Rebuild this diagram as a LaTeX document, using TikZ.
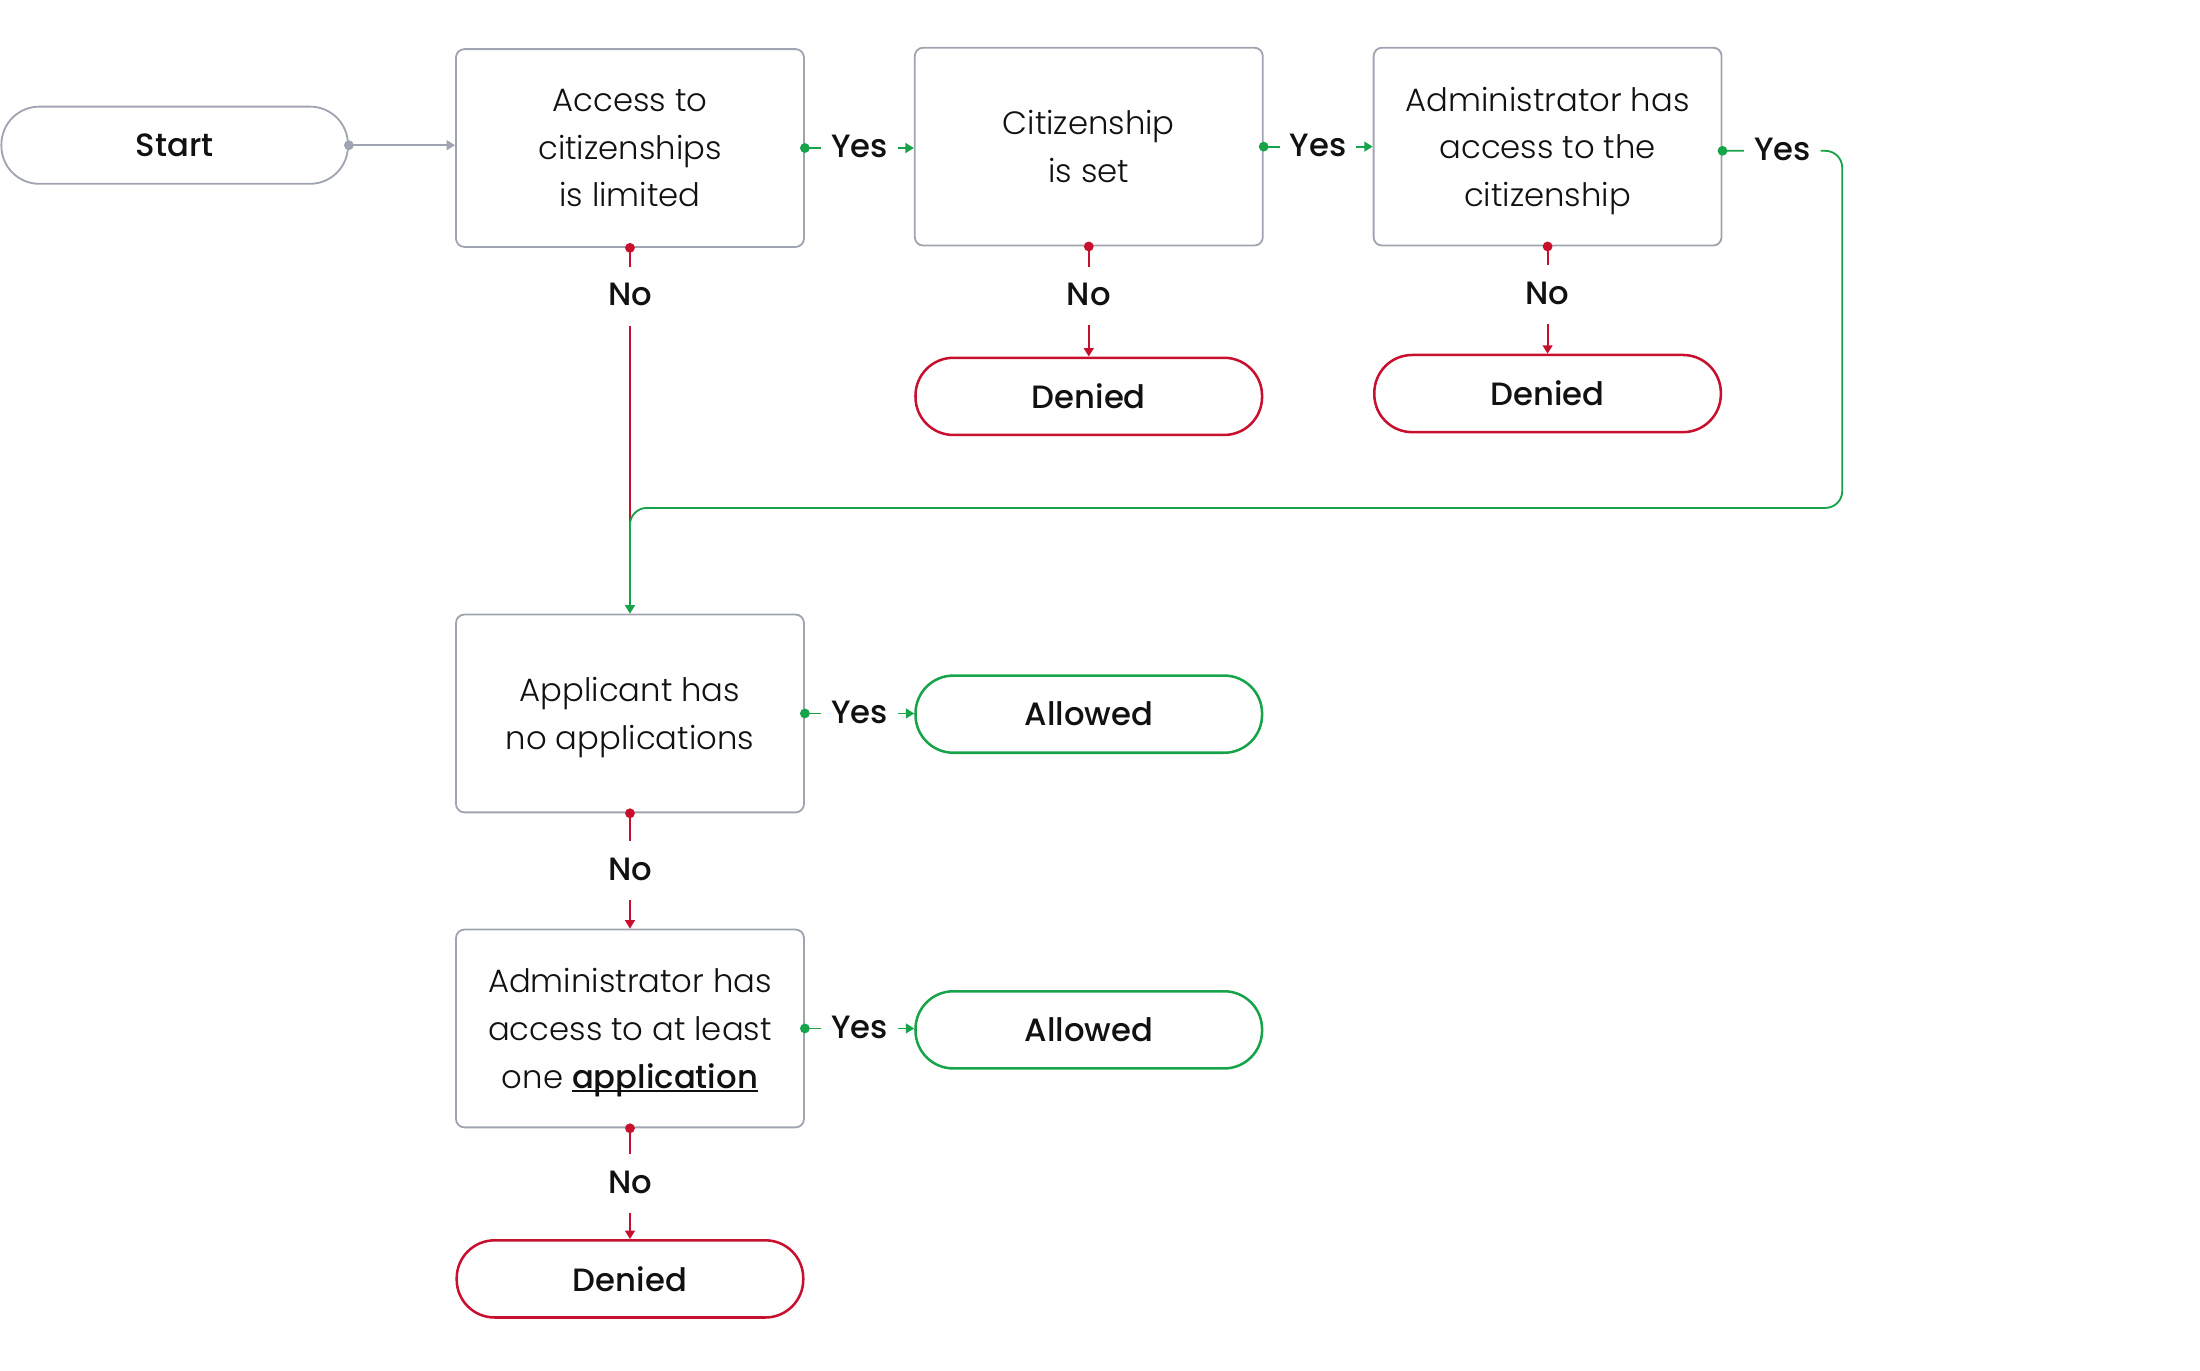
\documentclass[tikz,border=0pt]{standalone}
\usepackage{fontspec}
\setmainfont{Poppins}
\newfontfamily\plight{Poppins Light}
\newfontfamily\pmed{Poppins Medium}
\usetikzlibrary{arrows.meta,calc}
\definecolor{boxgray}{RGB}{160,164,176}
\definecolor{nored}{RGB}{200,16,46}
\definecolor{yesgreen}{RGB}{22,163,74}
\definecolor{ink}{RGB}{17,17,17}
\newcommand\nodp[1]{\raisebox{0pt}[\height][0pt]{#1}}
\newsavebox\ulbox
\newcommand\myul[1]{\sbox\ulbox{#1}\rlap{\rule[-2.6pt]{\wd\ulbox}{1.4pt}}\usebox\ulbox}
\begin{document}
\begin{tikzpicture}[x=1pt,y=-1pt,
  decision/.style={draw=boxgray, line width=1.3pt, rounded corners=6pt, minimum width=248pt, minimum height=141pt, align=center, text=ink, font=\plight\fontsize{23}{34}\selectfont},
  term/.style={rounded corners=27pt, minimum width=247pt, minimum height=55pt, line width=1.8pt, text=ink, font=\pmed\fontsize{23}{28}\selectfont},
  startbox/.style={term, draw=boxgray, line width=1.3pt},
  deniedbox/.style={term, draw=nored},
  allowedbox/.style={term, draw=yesgreen},
  lbl/.style={fill=white, text=ink, font=\pmed\fontsize{23}{28}\selectfont, inner xsep=7pt, inner ysep=14pt, text height=14pt, text depth=0pt},
  tip/.style={-{Triangle[length=6pt,width=7pt]}},
  grayline/.style={draw=boxgray, line width=1.3pt, tip},
  yesline/.style={draw=yesgreen, line width=1.3pt, tip},
  noline/.style={draw=nored, line width=1.3pt, tip},
]
\useasboundingbox (0,0) rectangle (1568,977);

% nodes
\node[startbox] (start) at (124.5,103.5) {Start};
\node[decision] (b1) at (449,105.5) {Access to\\citizenships\\is limited};
\node[decision] (b2) at (776,104.5) {Citizenship\\is set};
\node[decision] (b3) at (1103,104.5) {Administrator has\\access to the\\\nodp{citizenship}};
\node[deniedbox] (d2) at (776,282.5) {Denied};
\node[deniedbox] (d3) at (1103,280.5) {Denied};
\node[decision] (b4) at (449,508.5) {Applicant has\\\nodp{no applications}};
\node[allowedbox] (a1) at (776,509) {Allowed};
\node[decision] (b5) at (449,733) {Administrator has\\access to at least\\\nodp{one {\pmed\myul{application}}}};
\node[allowedbox] (a2) at (776,734) {Allowed};
\node[deniedbox] (d5) at (449,911.5) {Denied};

\coordinate (loopS) at ($(b3.east)+(0,3)$);
\coordinate (loopR) at (1313,362);
\coordinate (loopL) at (449,362);

% start -> b1
\draw[grayline] (start.east) -- (start.east -| b1.west);
\fill[boxgray] (start.east) circle (3.5pt);

% yes connectors
\draw[yesline] (b1.east) -- node[lbl] {Yes} (b1.east -| b2.west);
\fill[yesgreen] (b1.east) circle (3.5pt);
\draw[yesline] (b2.east) -- node[lbl] {Yes} (b2.east -| b3.west);
\fill[yesgreen] (b2.east) circle (3.5pt);
\draw[yesline] (b4.east) -- node[lbl] {Yes} (b4.east -| a1.west);
\fill[yesgreen] (b4.east) circle (3.5pt);
\draw[yesline] (b5.east) -- node[lbl] {Yes} (b5.east -| a2.west);
\fill[yesgreen] (b5.east) circle (3.5pt);

% no connectors
\draw[noline] (b2.south) -- node[lbl, pos=0.45] {No} (d2.north);
\fill[nored] (b2.south) circle (3.5pt);
\draw[noline] (b3.south) -- node[lbl, pos=0.45] {No} (d3.north);
\fill[nored] (b3.south) circle (3.5pt);
\draw[noline] (b4.south) -- node[lbl] {No} (b5.north);
\fill[nored] (b4.south) circle (3.5pt);
\draw[noline] (b5.south) -- node[lbl] {No} (d5.north);
\fill[nored] (b5.south) circle (3.5pt);

% b1 no -> merge
\draw[draw=nored, line width=1.3pt] (b1.south) -- ($(loopL)+(0,13)$);
\node[lbl] (nob1) at (449,211) {No};
\fill[nored] (b1.south) circle (3.5pt);

% loop from b3 yes to b4
\draw[yesline, rounded corners=12pt] (loopS) -- node[lbl] {Yes} (loopS -| loopR) -- (loopR) -- (loopL) -- (b4.north);
\fill[yesgreen] (loopS) circle (3.5pt);
\end{tikzpicture}
\end{document}
